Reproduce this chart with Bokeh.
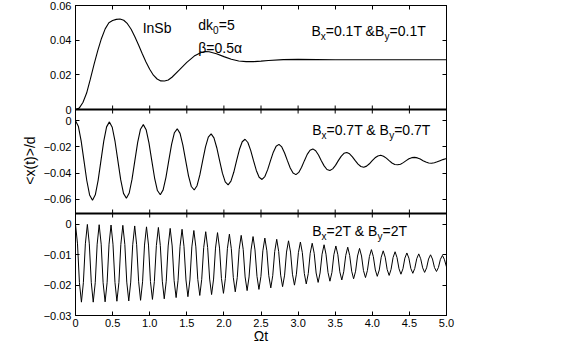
import numpy as np
from bokeh.plotting import figure
from bokeh.models import Range1d, LinearAxis, FixedTicker, Label, Span, AllLabels
from bokeh.embed import file_html
from bokeh.resources import INLINE

# ---------------- data ----------------
# top panel: B = 0.1 T
t_top = [0, 0.05, 0.1, 0.15, 0.2, 0.25, 0.3, 0.35, 0.4, 0.45,
         0.5, 0.55, 0.6, 0.65, 0.7, 0.75, 0.8, 0.85, 0.9, 0.95,
         1.0, 1.05, 1.1, 1.15, 1.2, 1.25, 1.3, 1.4, 1.5, 1.6,
         1.7, 1.75, 1.8, 1.9, 2.0, 2.1, 2.2, 2.3, 2.4, 2.5,
         2.6, 2.8, 3.0, 3.5, 4.0, 4.5, 5.0]
x_top = [0.0, 0.0008, 0.004, 0.0095, 0.0175, 0.026, 0.034, 0.041, 0.0465, 0.0500,
         0.0513, 0.0520, 0.0522, 0.0515, 0.0495, 0.0463, 0.0420, 0.0372, 0.0322, 0.0274,
         0.0232, 0.0198, 0.0176, 0.0165, 0.0164, 0.0170, 0.0186, 0.0228, 0.0272, 0.0308,
         0.0330, 0.0335, 0.0333, 0.0322, 0.0305, 0.0290, 0.0280, 0.0276, 0.0276, 0.0279,
         0.0283, 0.0288, 0.0289, 0.0287, 0.0287, 0.0287, 0.0287]

# middle panel: B = 0.7 T
t_mid = [0, 0.038, 0.076, 0.114, 0.152, 0.190, 0.229, 0.267, 0.305, 0.343, 0.381, 0.419,
         0.457, 0.495, 0.533, 0.571, 0.609, 0.647, 0.686, 0.724, 0.762, 0.800, 0.838, 0.876,
         0.914, 0.952, 0.990, 1.028, 1.066, 1.104, 1.143, 1.181, 1.219, 1.257, 1.295, 1.333,
         1.371, 1.409, 1.447, 1.485, 1.523, 1.561, 1.600, 1.638, 1.676, 1.714, 1.752, 1.790,
         1.828, 1.866, 1.904, 1.942, 1.980, 2.018, 2.057, 2.095, 2.133, 2.171, 2.209, 2.247,
         2.285, 2.323, 2.361, 2.399, 2.437, 2.475, 2.514, 2.552, 2.590, 2.628, 2.666, 2.704,
         2.742, 2.780, 2.818, 2.856, 2.894, 2.932, 2.971, 3.009, 3.047, 3.085, 3.123, 3.161,
         3.199, 3.237, 3.275, 3.313, 3.351, 3.389, 3.428, 3.466, 3.504, 3.542, 3.580, 3.618,
         3.656, 3.694, 3.732, 3.770, 3.808, 3.846, 3.885, 3.923, 3.961, 3.999, 4.037, 4.075,
         4.113, 4.151, 4.189, 4.227, 4.265, 4.303, 4.342, 4.380, 4.418, 4.456, 4.494, 4.532,
         4.570, 4.608, 4.646, 4.684, 4.722, 4.760, 4.799, 4.837, 4.875, 4.913, 4.951, 4.989,
         5.0]
x_mid = [0.0, -0.0041, -0.0153, -0.0305, -0.0457, -0.0568, -0.0608, -0.0567, -0.0456, -0.0305, -0.0155, -0.0046,
         -0.0008, -0.0049, -0.0158, -0.0305, -0.0451, -0.0556, -0.0593, -0.0553, -0.0447, -0.0305, -0.0165, -0.0064,
         -0.0029, -0.0068, -0.0169, -0.0305, -0.0438, -0.0534, -0.0566, -0.0529, -0.0433, -0.0305, -0.0180, -0.0091,
         -0.0061, -0.0096, -0.0186, -0.0305, -0.0421, -0.0503, -0.0530, -0.0497, -0.0414, -0.0305, -0.0199, -0.0125,
         -0.0100, -0.0130, -0.0206, -0.0305, -0.0401, -0.0468, -0.0490, -0.0462, -0.0394, -0.0305, -0.0220, -0.0160,
         -0.0141, -0.0166, -0.0226, -0.0305, -0.0380, -0.0432, -0.0449, -0.0427, -0.0374, -0.0305, -0.0240, -0.0194,
         -0.0180, -0.0200, -0.0246, -0.0305, -0.0361, -0.0400, -0.0412, -0.0395, -0.0356, -0.0305, -0.0257, -0.0225,
         -0.0215, -0.0229, -0.0262, -0.0305, -0.0345, -0.0373, -0.0380, -0.0368, -0.0341, -0.0305, -0.0272, -0.0249,
         -0.0243, -0.0253, -0.0276, -0.0305, -0.0332, -0.0350, -0.0356, -0.0347, -0.0329, -0.0305, -0.0283, -0.0269,
         -0.0264, -0.0271, -0.0286, -0.0305, -0.0323, -0.0334, -0.0337, -0.0332, -0.0320, -0.0305, -0.0291, -0.0282,
         -0.0280, -0.0284, -0.0293, -0.0305, -0.0316, -0.0323, -0.0325, -0.0321, -0.0314, -0.0305, -0.0297, -0.0291,
         -0.0290]

# bottom panel: B = 2 T
t_bot = [0, 0.027, 0.053, 0.080, 0.106, 0.133, 0.160, 0.186, 0.213,
         0.239, 0.266, 0.292, 0.319, 0.346, 0.372, 0.399, 0.426, 0.452,
         0.479, 0.505, 0.532, 0.558, 0.585, 0.611, 0.638, 0.665, 0.691,
         0.718, 0.744, 0.771, 0.798, 0.824, 0.851, 0.877, 0.904, 0.930,
         0.957, 0.984, 1.010, 1.037, 1.063, 1.090, 1.117, 1.143, 1.170,
         1.196, 1.223, 1.249, 1.276, 1.303, 1.329, 1.356, 1.382, 1.409,
         1.436, 1.462, 1.489, 1.515, 1.542, 1.568, 1.595, 1.622, 1.648,
         1.675, 1.701, 1.728, 1.755, 1.781, 1.808, 1.834, 1.861, 1.887,
         1.914, 1.941, 1.967, 1.994, 2.020, 2.047, 2.074, 2.100, 2.127,
         2.153, 2.180, 2.206, 2.233, 2.260, 2.286, 2.313, 2.339, 2.366,
         2.393, 2.419, 2.446, 2.472, 2.499, 2.525, 2.552, 2.579, 2.605,
         2.632, 2.658, 2.685, 2.712, 2.738, 2.765, 2.791, 2.818, 2.844,
         2.871, 2.898, 2.924, 2.951, 2.977, 3.004, 3.031, 3.057, 3.084,
         3.110, 3.137, 3.163, 3.190, 3.217, 3.243, 3.270, 3.296, 3.323,
         3.350, 3.376, 3.403, 3.429, 3.456, 3.482, 3.509, 3.536, 3.562,
         3.589, 3.615, 3.642, 3.669, 3.695, 3.722, 3.748, 3.775, 3.801,
         3.828, 3.855, 3.881, 3.908, 3.934, 3.961, 3.988, 4.014, 4.041,
         4.067, 4.094, 4.120, 4.147, 4.174, 4.200, 4.227, 4.253, 4.280,
         4.307, 4.333, 4.360, 4.386, 4.413, 4.439, 4.466, 4.493, 4.519,
         4.546, 4.572, 4.599, 4.626, 4.652, 4.679, 4.705, 4.732, 4.758,
         4.785, 4.811, 4.838, 4.865, 4.891, 4.918, 4.945, 4.971, 5.0]
x_bot = [0.0, -0.0064, -0.0192, -0.0256, -0.0192, -0.0064, 0.0, -0.0064, -0.0192,
         -0.0256, -0.0192, -0.0065, -0.0001, -0.0065, -0.0192, -0.0255, -0.0192, -0.0065,
         -0.0002, -0.0065, -0.0191, -0.0253, -0.0191, -0.0066, -0.0003, -0.0066, -0.0190,
         -0.0252, -0.0190, -0.0067, -0.0005, -0.0067, -0.0189, -0.0250, -0.0189, -0.0068,
         -0.0008, -0.0068, -0.0188, -0.0247, -0.0188, -0.0069, -0.0010, -0.0069, -0.0187,
         -0.0245, -0.0187, -0.0071, -0.0013, -0.0071, -0.0185, -0.0241, -0.0185, -0.0072,
         -0.0016, -0.0072, -0.0183, -0.0238, -0.0183, -0.0074, -0.0020, -0.0074, -0.0181,
         -0.0234, -0.0181, -0.0076, -0.0024, -0.0076, -0.0180, -0.0231, -0.0180, -0.0078,
         -0.0027, -0.0078, -0.0178, -0.0227, -0.0178, -0.0080, -0.0032, -0.0080, -0.0175,
         -0.0222, -0.0175, -0.0082, -0.0036, -0.0082, -0.0173, -0.0218, -0.0173, -0.0084,
         -0.0040, -0.0084, -0.0171, -0.0214, -0.0171, -0.0087, -0.0045, -0.0087, -0.0169,
         -0.0209, -0.0169, -0.0089, -0.0049, -0.0089, -0.0167, -0.0205, -0.0167, -0.0091,
         -0.0054, -0.0091, -0.0164, -0.0200, -0.0164, -0.0093, -0.0058, -0.0093, -0.0162,
         -0.0196, -0.0162, -0.0095, -0.0062, -0.0095, -0.0160, -0.0191, -0.0160, -0.0098,
         -0.0067, -0.0098, -0.0158, -0.0187, -0.0158, -0.0100, -0.0071, -0.0100, -0.0156,
         -0.0183, -0.0156, -0.0102, -0.0075, -0.0102, -0.0154, -0.0179, -0.0154, -0.0104,
         -0.0079, -0.0104, -0.0152, -0.0175, -0.0152, -0.0106, -0.0083, -0.0106, -0.0150,
         -0.0171, -0.0150, -0.0108, -0.0087, -0.0108, -0.0148, -0.0168, -0.0148, -0.0109,
         -0.0090, -0.0109, -0.0146, -0.0164, -0.0146, -0.0111, -0.0094, -0.0111, -0.0145,
         -0.0161, -0.0145, -0.0113, -0.0097, -0.0113, -0.0143, -0.0158, -0.0143, -0.0114,
         -0.0100, -0.0114, -0.0142, -0.0155, -0.0142, -0.0115, -0.0102, -0.0115, -0.0140]

x_ticks = [0.0, 0.5, 1.0, 1.5, 2.0, 2.5, 3.0, 3.5, 4.0, 4.5, 5.0]
x_tick_labels = ["0", "0.5", "1.0", "1.5", "2.0", "2.5", "3.0", "3.5", "4.0", "4.5", "5.0"]
y_top_ticks = [0.0, 0.02, 0.04, 0.06]
y_top_labels = ["0", "0.02", "0.04", "0.06"]
y_mid_ticks = [0.0, -0.02, -0.04, -0.06]
y_mid_labels = ["0", "\u22120.02", "\u22120.04", "\u22120.06"]
y_bot_ticks = [0.0, -0.01, -0.02, -0.03]
y_bot_labels = ["0", "\u22120.01", "\u22120.02", "\u22120.03"]

lim_top = (0.0, 0.06)
lim_mid = (-0.071, 0.0087)
lim_bot = (-0.03, 0.0036)

# ---------------- layout ----------------
FONT = "Liberation Sans"
H = 310                      # frame height in px (= stack units)
slots = {"bot": (0, 102), "mid": (102, 206), "top": (206, 310)}
lims = {"top": lim_top, "mid": lim_mid, "bot": lim_bot}


def full_range(name):
    lo, hi = lims[name]
    b, t = slots[name]
    k = (hi - lo) / (t - b)
    return lo - k * b, hi + k * (H - t)


p = figure(frame_width=371, frame_height=H,
           x_range=Range1d(0, 5), y_range=Range1d(0, H),
           output_backend="svg", toolbar_location=None,
           min_border_left=75, min_border_right=14,
           min_border_top=5, min_border_bottom=0)
p.extra_y_ranges = {n: Range1d(*full_range(n)) for n in ("top", "mid", "bot")}
p.grid.visible = False
p.outline_line_color = "black"
p.outline_line_width = 1
p.background_fill_color = "white"
p.border_fill_color = "white"

# stacked tick positions for the shared left / right axis
stack_ticks, overrides = [], {}
for name, ticks, labels in (("top", y_top_ticks, y_top_labels),
                            ("mid", y_mid_ticks, y_mid_labels),
                            ("bot", y_bot_ticks, y_bot_labels)):
    lo, hi = lims[name]
    b, t = slots[name]
    k = (hi - lo) / (t - b)
    for v, lab in zip(ticks, labels):
        s = b + (v - lo) / k
        stack_ticks.append(s)
        overrides[s] = lab


def style_axis(ax):
    ax.major_tick_in = 4
    ax.major_tick_out = 0
    ax.minor_tick_line_color = None
    ax.axis_line_color = "black"
    ax.major_tick_line_color = "black"
    ax.major_label_text_color = "black"
    ax.major_label_text_font = FONT
    ax.major_label_text_font_size = "11px"


def hide_labels(ax):
    ax.major_label_text_font_size = "0px"
    ax.major_label_text_color = None
    ax.major_label_standoff = 0


yl = p.yaxis[0]
style_axis(yl)
yl.ticker = FixedTicker(ticks=stack_ticks)
yl.major_label_overrides = overrides
yl.major_label_policy = AllLabels()
yl.major_label_standoff = 4
yl.axis_label = "<x(t)>/d"
yl.axis_label_text_font = FONT
yl.axis_label_text_font_size = "14px"
yl.axis_label_text_font_style = "normal"
yl.axis_label_text_color = "black"
yl.axis_label_standoff = 3

xb = p.xaxis[0]
style_axis(xb)
xb.ticker = FixedTicker(ticks=x_ticks)
xb.major_label_overrides = dict(zip(x_ticks, x_tick_labels))
xb.major_label_standoff = 3
xb.axis_label = "\u03a9t"
xb.axis_label_text_font = FONT
xb.axis_label_text_font_size = "14px"
xb.axis_label_text_font_style = "normal"
xb.axis_label_text_color = "black"
xb.axis_label_standoff = -2

top_ax = LinearAxis(ticker=FixedTicker(ticks=x_ticks))
style_axis(top_ax)
hide_labels(top_ax)
p.add_layout(top_ax, "above")

right_ax = LinearAxis(ticker=FixedTicker(ticks=stack_ticks))
style_axis(right_ax)
hide_labels(right_ax)
p.add_layout(right_ax, "right")

# panel separators with inward ticks on both sides
for name, loc in (("top", lim_top[0]), ("mid", lim_mid[0])):
    p.add_layout(Span(location=loc, dimension="width", y_range_name=name,
                      line_color="black", line_width=1.8))
    p.scatter(x=x_ticks, y=[loc] * len(x_ticks), y_range_name=name,
              marker="dash", angle=np.pi / 2, size=8,
              line_color="black", line_width=1)

# curves
p.line(t_top, x_top, y_range_name="top", line_color="black", line_width=1.1)
p.line(t_mid, x_mid, y_range_name="mid", line_color="black", line_width=1.1)
p.line(t_bot, x_bot, y_range_name="bot", line_color="black", line_width=1.0)


def put(rng, x, y, parts):
    for txt, dx, sub in parts:
        p.add_layout(Label(x=x, y=y, x_offset=dx, y_offset=(-5 if sub else 0),
                           y_range_name=rng, text=txt, text_font=FONT,
                           text_font_size=("10px" if sub else "14px"),
                           text_color="black", text_baseline="alphabetic"))


put("top", 0.905, 0.0473, [("InSb", 0, 0)])
put("top", 1.655, 0.0485, [("dk", 0, 0), ("0", 14.8, 1), ("=5", 20.4, 0)])
put("top", 1.655, 0.0354, [("\u03b2=0.5\u03b1", 0, 0)])
put("top", 3.18, 0.0452, [("B", 0, 0), ("x", 9.3, 1), ("=0.1T &B", 14.3, 0),
                          ("y", 73.1, 1), ("=0.1T", 78.1, 0)])
put("mid", 3.19, -0.0073, [("B", 0, 0), ("x", 9.3, 1), ("=0.7T & B", 14.3, 0),
                           ("y", 77.0, 1), ("=0.7T", 82.0, 0)])
put("bot", 3.19, -0.0022, [("B", 0, 0), ("x", 9.3, 1), ("=2T & B", 14.3, 0),
                           ("y", 65.3, 1), ("=2T", 70.3, 0)])

open("out.html", "w", encoding="utf-8").write(file_html(p, INLINE))
